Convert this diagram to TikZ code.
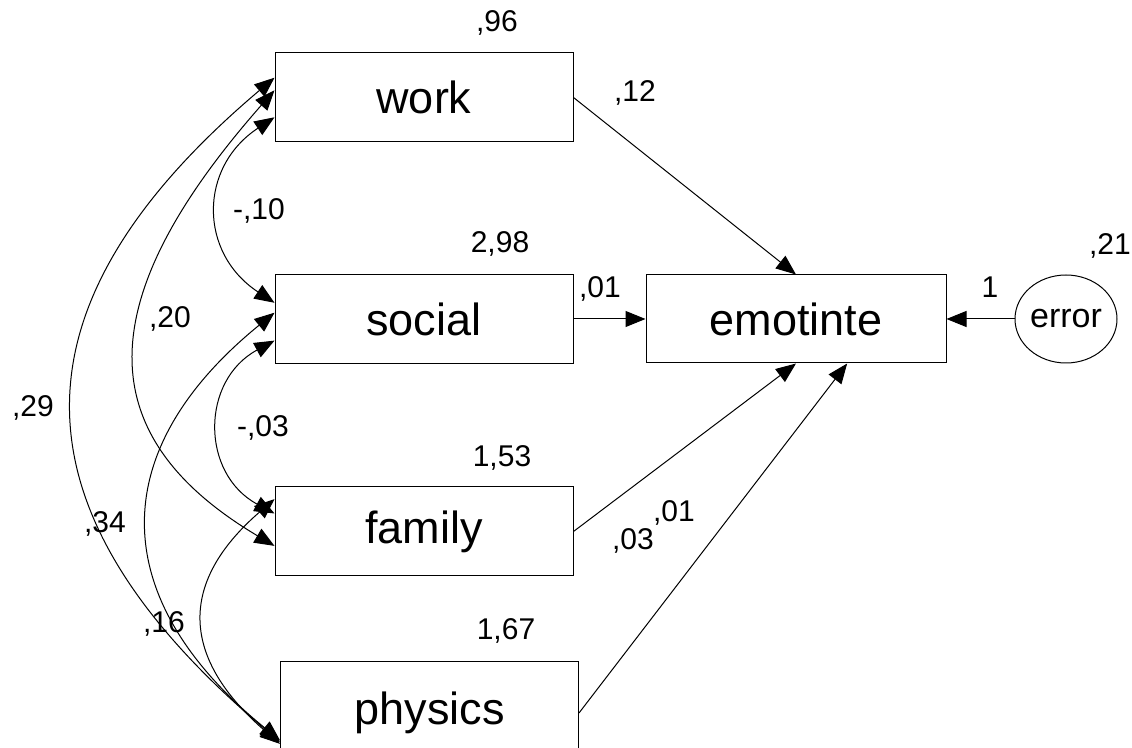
\documentclass[tikz,border=0pt]{standalone}
\usepackage{fontspec}
\setmainfont{Liberation Sans}
\usepackage{tikz}
\usetikzlibrary{arrows.meta}
\usetikzlibrary{shapes.geometric}
\usetikzlibrary{calc}
\begin{document}
\begin{tikzpicture}[x=0.5pt,y=0.5pt,yscale=-1,xscale=1,
  var/.style={draw,line width=0.5pt,minimum width=149pt,minimum height=44.5pt,inner sep=0pt,font=\fontsize{22.5}{27}\selectfont},
  lbl/.style={anchor=base,inner sep=0pt,font=\fontsize{15}{18}\selectfont},
  reg/.style={line width=0.5pt,-{Triangle[length=10pt,width=8pt]}},
  cov/.style={line width=0.5pt,{Triangle[length=10pt,width=8pt]}-{Triangle[length=10pt,width=8pt]}}]
\useasboundingbox (0,0) rectangle (1132,748);
\node [var] (work) at (424,97.5) {work};
\node [var] (social) at (424,319) {social};
\node [var] (family) at (424,531.5) {family};
\node [var,minimum height=51pt] (physics) at (429.5,713) {physics};
\node [var,minimum width=150pt,minimum height=44pt] (emotinte) at (796,319) {emotinte};
\node [draw,ellipse,line width=0.5pt,minimum width=51pt,minimum height=44pt,inner sep=0pt,font=\fontsize{17}{20}\selectfont] (error) at (1066,319) {error};
\draw [reg] (work.east) -- (emotinte.north);
\draw [reg] (social.east) -- (emotinte.west);
\draw [reg] (family.east) -- (emotinte.south);
\draw [reg] (physics.east) -- ($(emotinte.south west)!0.67!(emotinte.south east)$);
\draw [reg] (error.west) -- (emotinte.east);
\draw [cov] ($(work.north west)!0.72!(work.south west)$) .. controls +(-76,50) and +(-76,-50) .. ($(social.north west)!0.32!(social.south west)$);
\draw [cov] ($(work.north west)!0.42!(work.south west)$) .. controls +(-185,210) and +(-185,-110) .. ($(family.north west)!0.66!(family.south west)$);
\draw [cov] ($(work.north west)!0.28!(work.south west)$) .. controls +(-272,230) and +(-272,-230) .. ($(physics.north west)!0.78!(physics.south west)$);
\draw [cov] ($(social.north west)!0.74!(social.south west)$) .. controls +(-74,40) and +(-74,-40) .. ($(family.north west)!0.3!(family.south west)$);
\draw [cov] ($(social.north west)!0.43!(social.south west)$) .. controls +(-172,140) and +(-172,-140) .. ($(physics.north west)!0.765!(physics.south west)$);
\draw [cov] ($(family.north west)!0.14!(family.south west)$) .. controls +(-98,85) and +(-98,-85) .. ($(physics.north west)!0.8!(physics.south west)$);
\node [lbl] (vwork) at (497,32) {,96};
\node [lbl] (vsocial) at (500,253) {2,98};
\node [lbl] (vfamily) at (502,467) {1,53};
\node [lbl] (vphysics) at (506,640) {1,67};
\node [lbl] (verror) at (1110,255) {,21};
\node [lbl] (bwork) at (635,102) {,12};
\node [lbl] (bsocial) at (600,298) {,01};
\node [lbl] (bfamily) at (633,550) {,03};
\node [lbl] (bphysics) at (674,522) {,01};
\node [lbl] (berror) at (990,298) {1};
\node [lbl] (cworksocial) at (259,220) {-,10};
\node [lbl] (cworkfamily) at (170,328) {,20};
\node [lbl] (cworkphysics) at (33,417) {,29};
\node [lbl] (csocialfamily) at (263,437) {-,03};
\node [lbl] (csocialphysics) at (105,533) {,34};
\node [lbl] (cfamilyphysics) at (164,633) {,16};
\end{tikzpicture}
\end{document}
